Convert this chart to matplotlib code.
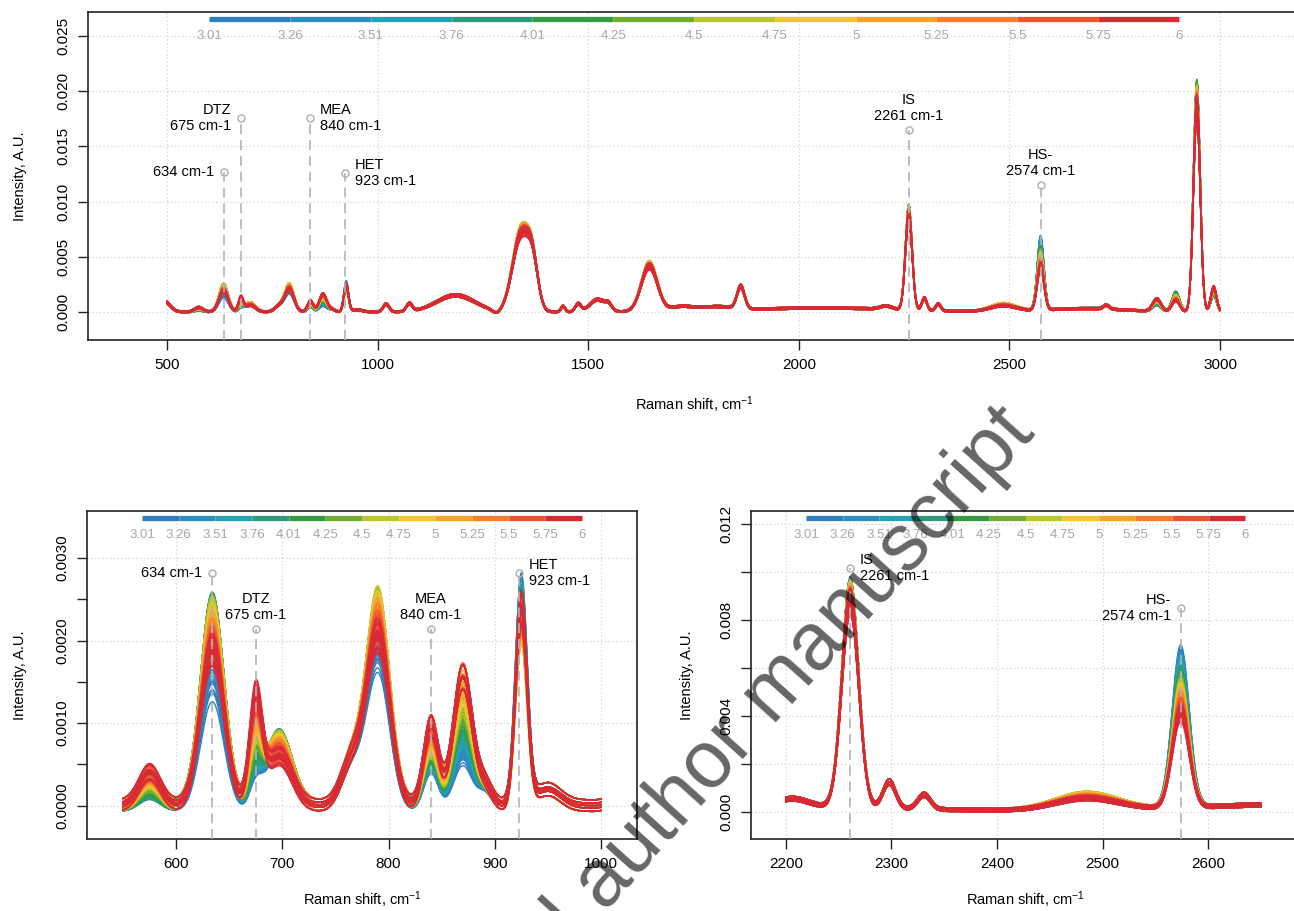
import numpy as np
import matplotlib
matplotlib.use('Agg')
import matplotlib.pyplot as plt

plt.rcParams['font.family'] = ['Liberation Sans', 'DejaVu Sans']
plt.rcParams['mathtext.fontset'] = 'custom'
plt.rcParams['mathtext.rm'] = 'Liberation Sans'
plt.rcParams['mathtext.default'] = 'regular'

# pH scale shown above each panel
ph_ticks = [3.01, 3.26, 3.51, 3.76, 4.01, 4.25, 4.5, 4.75, 5, 5.25, 5.5, 5.75, 6]
ph_colors = ['#2f7fc0', '#2a90bf', '#25a3b3', '#2b9c7b', '#349a45', '#72ad30',
             '#b9c631', '#f2c62c', '#f9a22b', '#f77d2f', '#ea5530', '#d82a35']

# titration points (one spectrum set per pH)
ph_values = [3.01, 3.09, 3.18, 3.26, 3.35, 3.43, 3.51, 3.60, 3.68, 3.76, 3.85,
             3.93, 4.01, 4.09, 4.17, 4.25, 4.34, 4.42, 4.50, 4.58, 4.67, 4.75,
             4.83, 4.92, 5.00, 5.08, 5.17, 5.25, 5.33, 5.42, 5.50, 5.58, 5.67,
             5.75, 5.83, 5.92, 6.00]
rep_scale = [0.95, 0.975, 1.0, 1.025, 1.05]
rep_offset = [-0.00007, 0.00003, 0.0, -0.00003, 0.00007]

# Raman bands: centre (cm-1), width (cm-1), intensity at the anchor pH values
anchor_ph = [3.01, 3.76, 4.5, 5.25, 6.0]
bands = [
    (492, 14, 0.0010),
    (575, 10, [0.00020, 0.00015, 0.00028, 0.00036, 0.00042]),
    (634, 11, [0.00140, 0.00240, 0.00235, 0.00210, 0.00185]),
    (675, 6, [0.00030, 0.00040, 0.00070, 0.00100, 0.00128]),
    (697, 12, [0.00075, 0.00082, 0.00080, 0.00070, 0.00058]),
    (765, 10, 0.00050),
    (790, 11, [0.00175, 0.00230, 0.00245, 0.00225, 0.00200]),
    (840, 7, [0.00048, 0.00058, 0.00070, 0.00088, 0.00098]),
    (870, 9, [0.00058, 0.00092, 0.00120, 0.00158, 0.00155]),
    (891, 7, 0.00022),
    (925, 5.5, [0.00260, 0.00245, 0.00210, 0.00225, 0.00240]),
    (950, 12, 0.00020),
    (1020, 7, 0.00070),
    (1075, 7, 0.00070),
    (1185, 45, 0.00150),
    (1282, 9, -0.00030),
    (1340, 20, [0.00700, 0.00710, 0.00720, 0.00700, 0.00670]),
    (1368, 13, 0.00350),
    (1440, 5, 0.00050),
    (1476, 7, 0.00070),
    (1522, 18, 0.00110),
    (1548, 8, 0.00050),
    (1645, 19, [0.00420, 0.00425, 0.00435, 0.00420, 0.00405]),
    (1720, 25, 0.00040),
    (1800, 40, 0.00035),
    (1862, 9, 0.00200),
    (2050, 180, 0.00035),
    (2207, 14, 0.00030),
    (2261, 8, [0.00895, 0.00905, 0.00895, 0.00875, 0.00855]),
    (2298, 6, 0.00110),
    (2331, 6, 0.00060),
    (2485, 30, [0.00050, 0.00065, 0.00070, 0.00060, 0.00050]),
    (2574, 8, [0.00640, 0.00560, 0.00505, 0.00455, 0.00385]),
    (2680, 90, 0.00030),
    (2730, 7, 0.00035),
    (2850, 10, [0.00060, 0.00070, 0.00090, 0.00110, 0.00110]),
    (2895, 9, [0.00160, 0.00170, 0.00140, 0.00120, 0.00100]),
    (2945, 8, [0.01950, 0.02000, 0.01950, 0.01900, 0.01850]),
    (2985, 7, [0.00180, 0.00150, 0.00190, 0.00210, 0.00220]),
]

# labelled peaks: position, marker height, tag, label side
top_marks = [(634, 0.0127, '', 'left'), (675, 0.0176, 'DTZ', 'left'),
             (840, 0.0176, 'MEA', 'right'), (923, 0.0126, 'HET', 'right'),
             (2261, 0.0165, 'IS', 'above'), (2574, 0.0115, 'HS-', 'above')]
low_marks = [(634, 0.00282, '', 'left'), (675, 0.00214, 'DTZ', 'above'),
             (840, 0.00214, 'MEA', 'above'), (923, 0.00282, 'HET', 'right')]
high_marks = [(2261, 0.01015, 'IS', 'right'), (2574, 0.00849, 'HS-', 'left')]

shift = np.arange(500, 3001, 1.0)


def spectrum(ph, scale, offset):
    y = np.zeros_like(shift)
    for c, w, h in bands:
        amp = np.interp(ph, anchor_ph, h) if np.ndim(h) else h
        y += amp * np.exp(-0.5 * ((shift - c) / w) ** 2)
    return y * scale + offset


def ph_color(ph):
    i = np.searchsorted(ph_ticks, ph, side='right') - 1
    return ph_colors[min(max(i, 0), len(ph_colors) - 1)]


spectra = []
for ph in ph_values:
    for s, o in zip(rep_scale, rep_offset):
        spectra.append((ph, spectrum(ph, s, o)))


def draw_panel(ax, xmin, xmax, xlim, ylim, xticks, yticks, ylabels, minor,
               marks):
    ax.set_xlim(*xlim)
    ax.set_ylim(*ylim)
    ax.set_xticks(xticks)
    ax.set_yticks(yticks)
    ax.set_yticklabels(ylabels, rotation=90, va='center')
    ax.set_yticks(minor, minor=True)
    ax.tick_params(which='both', direction='out', length=7, width=1,
                   labelsize=11, pad=6, color='#222222')
    for sp in ax.spines.values():
        sp.set_linewidth(1.2)
        sp.set_color('#222222')
    ax.grid(True, which='major', color='#d3d3d3', lw=0.9, ls=(0, (1, 2)),
            zorder=0)
    ax.set_axisbelow(True)

    keep = (shift >= xmin) & (shift <= xmax)
    for ph, y in spectra:
        ax.plot(shift[keep], y[keep], color=ph_color(ph), lw=1.0, zorder=2)

    for x, yc, tag, side in marks:
        ax.plot([x, x], [ylim[0], yc], color='#b3b3b3', lw=1.2,
                dashes=(6, 3.5), zorder=5, clip_on=False)
        ax.plot(x, yc, 'o', mfc='none', mec='#b3b3b3', ms=5, mew=1.1, zorder=6)
        label = f'{x} cm-1' if not tag else f'{tag}\n{x} cm-1'
        if side == 'left':
            off, ha, va = (-7, 0), 'right', 'center'
        elif side == 'right':
            off, ha, va = (7, 0), 'left', 'center'
        else:
            off, ha, va = (0, 5), 'center', 'bottom'
        ax.annotate(label, (x, yc), xytext=off, textcoords='offset points',
                    ha=ha, va=va, multialignment=ha, fontsize=10.5, zorder=7)

    # pH colour key along the top of the panel
    n = len(ph_colors)
    xs = np.linspace(0.1, 0.9, n + 1)
    for i in range(n):
        ax.plot(xs[i:i + 2], [0.98, 0.98], color=ph_colors[i], lw=3.8,
                solid_capstyle='butt', transform=ax.transAxes, zorder=8)
    for xf, t in zip(xs, ph_ticks):
        ax.text(xf, 0.927, f'{t:g}', color='#a6a6a6', fontsize=9.5,
                ha='center', va='center', transform=ax.transAxes, zorder=8)

    ax.set_xlabel('Raman shift, cm$^{-1}$', fontsize=10.5)
    ax.set_ylabel('Intensity, A.U.', fontsize=10.5)


fig = plt.figure(figsize=(12.94, 9.11), dpi=100)
W, H = 1294, 911

ax_top = fig.add_axes([88 / W, 1 - 340 / H, 1212 / W, 328 / H])
draw_panel(ax_top, 500, 3000, (312, 3190), (-0.00255, 0.02718),
           [500, 1000, 1500, 2000, 2500, 3000],
           [0, 0.005, 0.010, 0.015, 0.020, 0.025],
           ['0.000', '0.005', '0.010', '0.015', '0.020', '0.025'], [],
           top_marks)
ax_top.xaxis.set_label_coords(0.5, -0.165)
ax_top.yaxis.set_label_coords(-0.0503, 0.5)

ax_low = fig.add_axes([87 / W, 1 - 839 / H, 550 / W, 328 / H])
draw_panel(ax_low, 550, 1000, (516, 1034), (-0.000404, 0.00357),
           [600, 700, 800, 900, 1000],
           [0, 0.0010, 0.0020, 0.0030],
           ['0.0000', '0.0010', '0.0020', '0.0030'],
           [0.0005, 0.0015, 0.0025], low_marks)
ax_low.xaxis.set_label_coords(0.5, -0.155)
ax_low.yaxis.set_label_coords(-0.109, 0.5)

ax_high = fig.add_axes([751 / W, 1 - 839 / H, 549 / W, 328 / H])
draw_panel(ax_high, 2200, 2650, (2167, 2687), (-0.00114, 0.01253),
           [2200, 2300, 2400, 2500, 2600],
           [0, 0.002, 0.004, 0.006, 0.008, 0.010, 0.012],
           ['0.000', '', '0.004', '', '0.008', '', '0.012'], [], high_marks)
ax_high.xaxis.set_label_coords(0.5, -0.155)
ax_high.yaxis.set_label_coords(-0.104, 0.5)

fig.text(685 / W, 1 - 792 / H, 'Accepted author manuscript', fontsize=58,
         color='black', alpha=0.6, rotation=48, rotation_mode='anchor',
         ha='center', va='center', zorder=20)

fig.savefig('out.png', dpi=100)
